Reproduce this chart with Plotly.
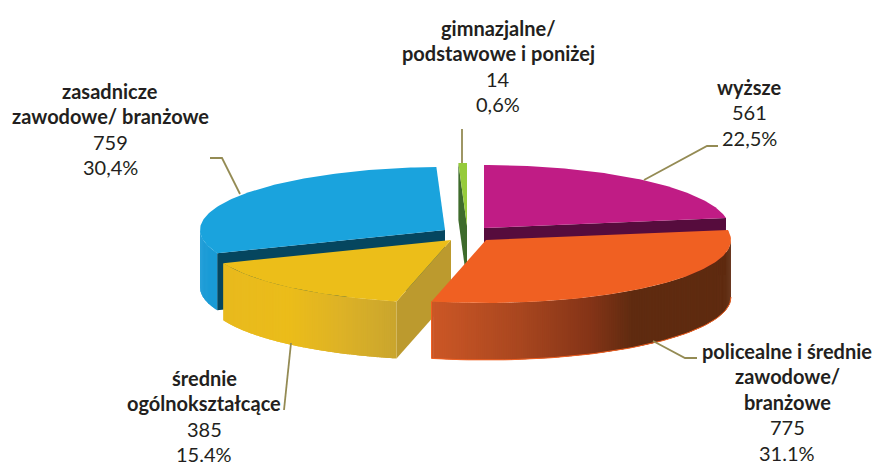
import math

import plotly.graph_objects as go


# ---------------------------------------------------
# DATA (clockwise from 12 o'clock)
# ---------------------------------------------------

names = ["wyższe", "policealne i średnie zawodowe/ branżowe", "średnie ogólnokształcące",
         "zasadnicze zawodowe/ branżowe", "gimnazjalne/ podstawowe i poniżej"]
counts = [561, 775, 385, 759, 14]
percents = ["22,5%", "31.1%", "15.4%", "30,4%", "0,6%"]

name_lines = [
    ["wyższe"],
    ["policealne i średnie", "zawodowe/", "branżowe"],
    ["średnie", "ogólnokształcące"],
    ["zasadnicze", "zawodowe/ branżowe"],
    ["gimnazjalne/", "podstawowe i poniżej"],
]

# ---------------------------------------------------
# LOOK OF THE PIE
# ---------------------------------------------------

W, H = 873, 463
RX, RY, DEPTH = 245, 63, 57

# exploded centre of each slice, in pixels
centres = [(484, 228), (486, 240), (451, 240), (445, 230), (467, 226)]

top_colors = ["#C01C85", "#F06022", "#ECBE19", "#1AA3DD", "#96CB3B"]
edge_colors = ["#560C3D", None, "#BC9A2E", "#05465F", "#3E6B2C"]

# (x pixel, colour) stops for the front wall of a slice
wall_stops = {
    1: [(431, "#CC5726"), (520, "#A8461F"), (590, "#843417"), (632, "#5F2B10"), (731, "#5F2B10")],
    2: [(222, "#E8BA1E"), (290, "#EBBC1A"), (340, "#DDB226"), (396, "#C9A52E")],
    3: [(200, "#1A9BD6"), (217, "#1A9BD6")],
}

# order slices are painted, back to front
paint_order = [0, 3, 4, 2, 1]

# label blocks: centre x, y of first line
label_pos = [(749, 87), (787, 351), (204, 378), (110, 91), (498, 28)]
LINE_STEP = 25.4

leaders = [
    ([644, 707, 718], [180, 146, 146]),
    ([653, 685, 697], [341, 358, 358]),
    ([291, 284], [343, 410]),
    ([240, 222, 210], [194, 158, 158]),
    ([462, 462], [129, 163]),
]
LEADER_COLOR = "#948B54"
TEXT_COLOR = "#231F20"


def rim(c, ang):
    a = math.radians(ang)
    return c[0] + RX * math.sin(a), c[1] - RY * math.cos(a)


def polygon(fig, xs, ys, color):
    fig.add_trace(go.Scatter(
        x=xs, y=ys, mode="lines", fill="toself", fillcolor=color,
        line=dict(width=0, color=color), hoverinfo="skip", showlegend=False
    ))


def hex_mix(stops, x):
    if x <= stops[0][0]:
        return stops[0][1]
    for (x0, c0), (x1, c1) in zip(stops, stops[1:]):
        if x <= x1:
            t = (x - x0) / (x1 - x0)
            rgb = [round(int(c0[i:i + 2], 16) * (1 - t) + int(c1[i:i + 2], 16) * t) for i in (1, 3, 5)]
            return "#%02X%02X%02X" % tuple(rgb)
    return stops[-1][1]


def draw_edge(fig, c, ang, color):
    ox, oy = rim(c, ang)
    polygon(fig, [c[0], ox, ox, c[0], c[0]],
            [c[1], oy, oy + DEPTH, c[1] + DEPTH, c[1]], color)


def draw_wall(fig, c, a0, a1, stops):
    # strips along the visible front of the rim
    lo, hi = max(a0, 90), min(a1, 270)
    if lo >= hi:
        return
    steps = max(int((hi - lo) * 2), 2)
    angs = [lo + (hi - lo) * k / steps for k in range(steps + 1)]
    for a, b in zip(angs, angs[1:]):
        # slight overlap hides the seams between the strips
        x0, y0 = rim(c, a)
        x1, y1 = rim(c, b + 0.6 if b + 0.6 <= hi else b)
        color = hex_mix(stops, (x0 + x1) / 2)
        polygon(fig, [x0, x1, x1, x0, x0],
                [y0, y1, y1 + DEPTH, y0 + DEPTH, y0], color)


# ---------------------------------------------------
# BUILD
# ---------------------------------------------------

total = sum(counts)
edges = [0]
for v in counts:
    edges.append(edges[-1] + v / total * 360)

fig = go.Figure()

for i in paint_order:
    c = centres[i]
    a0, a1 = edges[i], edges[i + 1]

    if edge_colors[i]:
        edge_ang = a1 if i == 0 else a0
        draw_edge(fig, c, edge_ang, edge_colors[i])
    if i in wall_stops:
        draw_wall(fig, c, a0, a1, wall_stops[i])

    steps = max(int(a1 - a0), 2)
    arc = [rim(c, a0 + (a1 - a0) * k / steps) for k in range(steps + 1)]
    xs = [c[0]] + [p[0] for p in arc] + [c[0]]
    ys = [c[1]] + [p[1] for p in arc] + [c[1]]
    polygon(fig, xs, ys, top_colors[i])

    # bright rim under the orange slice
    if i == 1:
        bottom = [rim(c, 90 + (a1 - 90) * k / 60) for k in range(61)]
        bx = [p[0] for p in bottom] + [bottom[-1][0]]
        by = [p[1] + DEPTH for p in bottom] + [bottom[-1][1]]
        fig.add_trace(go.Scatter(
            x=bx, y=by, mode="lines", line=dict(color="#F06022", width=1),
            hoverinfo="skip", showlegend=False
        ))

for lx, ly in leaders:
    fig.add_trace(go.Scatter(
        x=lx, y=ly, mode="lines", line=dict(color=LEADER_COLOR, width=1.8),
        hoverinfo="skip", showlegend=False
    ))

for i in range(len(counts)):
    px, py = label_pos[i]
    rows = [(t, True) for t in name_lines[i]]
    rows += [(str(counts[i]), False), (percents[i], False)]
    for k, (text, bold) in enumerate(rows):
        fig.add_annotation(
            x=px, y=py + k * LINE_STEP, text=f"<b>{text}</b>" if bold else text,
            showarrow=False, xanchor="center", yanchor="middle",
            font=dict(family="Lato", size=20, color=TEXT_COLOR)
        )

fig.update_layout(
    width=W, height=H,
    margin=dict(l=0, r=0, t=0, b=0),
    paper_bgcolor="white", plot_bgcolor="white",
    showlegend=False,
    xaxis=dict(range=[0, W], visible=False, fixedrange=True),
    yaxis=dict(range=[H, 0], visible=False, fixedrange=True),
)

fig.write_html("out.html", config=dict(displayModeBar=False),
               post_script="document.body.style.margin='0';")
